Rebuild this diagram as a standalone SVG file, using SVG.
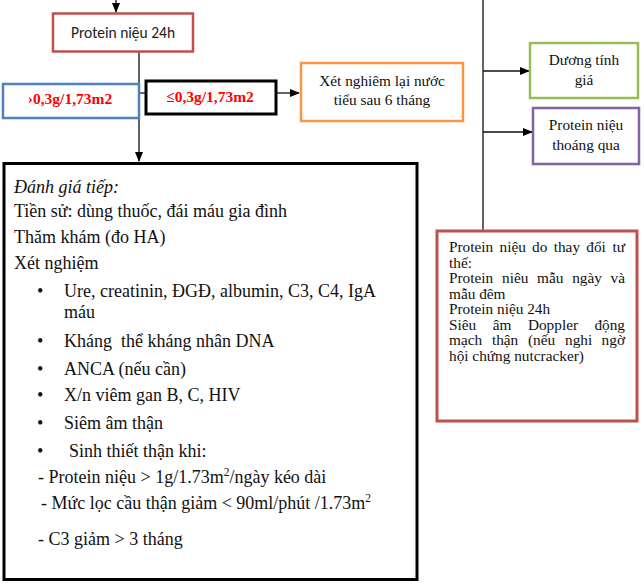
<svg xmlns="http://www.w3.org/2000/svg" width="644" height="585" viewBox="0 0 644 585">
<style>
.t{font-family:"Liberation Serif","Times New Roman",serif;fill:#111}
.s{font-family:"Carlito","Liberation Sans",Arial,sans-serif;fill:#222}
.r{font-family:"Liberation Serif","Times New Roman",serif;font-weight:bold;fill:#ff0000;font-size:15.5px}
.ln{stroke:#111;stroke-width:1.3;fill:none}
.bx{fill:#fff}
.e{text-anchor:end}
</style>
<defs>
<marker id="ah" markerWidth="10" markerHeight="8" refX="9" refY="4" orient="auto" markerUnits="userSpaceOnUse">
<path d="M0,0 L10,4 L0,8 Z" fill="#000"/>
</marker>
</defs>
<rect width="644" height="585" fill="#fff"/>
<g id="connectors">
<line class="ln" x1="116" y1="0" x2="116" y2="12" marker-end="url(#ah)"/>
<line class="ln" x1="139" y1="52" x2="139" y2="161" marker-end="url(#ah)"/>
<line class="ln" x1="139" y1="93" x2="146" y2="93"/>
<line class="ln" x1="276" y1="93" x2="299" y2="93" marker-end="url(#ah)"/>
<line class="ln" x1="483" y1="0" x2="483" y2="231" stroke="#444"/>
<line class="ln" x1="483" y1="71" x2="529" y2="71" marker-end="url(#ah)"/>
<line class="ln" x1="483" y1="132" x2="532" y2="132" marker-end="url(#ah)"/>
</g>
<g id="n-protein24h">
<rect class="bx" x="53" y="13.5" width="140" height="38" stroke="#c0504d" stroke-width="2.5"/>
<text class="s" x="123" y="37.5" font-size="15.5" text-anchor="middle">Protein niệu 24h</text>
</g>
<g id="n-gt">
<rect class="bx" x="3" y="84" width="136" height="34" stroke="#4f81bd" stroke-width="2.5"/>
<text class="r" x="70" y="104" text-anchor="middle">›0,3g/1,73m2</text>
</g>
<g id="n-le">
<rect class="bx" x="146" y="81" width="130" height="33" stroke="#000" stroke-width="3"/>
<text class="r" x="210" y="102" text-anchor="middle">≤0,3g/1,73m2</text>
</g>
<g id="n-xn">
<rect class="bx" x="301" y="63" width="162" height="58" stroke="#f79646" stroke-width="2.5"/>
<text class="t" x="382" y="86" font-size="15.3" text-anchor="middle">Xét nghiêm lại nước</text>
<text class="t" x="382" y="105" font-size="15.3" text-anchor="middle">tiểu sau 6 tháng</text>
</g>
<g id="n-duong">
<rect class="bx" x="530" y="43" width="108" height="55" stroke="#9bbb59" stroke-width="2.5"/>
<text class="t" x="584" y="64.5" font-size="15.3" text-anchor="middle">Dương tính</text>
<text class="t" x="584" y="85" font-size="15.3" text-anchor="middle">giá</text>
</g>
<g id="n-thoang">
<rect class="bx" x="533" y="108" width="106" height="56" stroke="#8064a2" stroke-width="2.5"/>
<text class="t" x="586" y="129.5" font-size="15.3" text-anchor="middle">Protein niệu</text>
<text class="t" x="586" y="149.5" font-size="15.3" text-anchor="middle">thoáng qua</text>
</g>
<g id="n-tuthe">
<rect class="bx" x="437" y="231" width="200" height="190" stroke="#c0504d" stroke-width="3"/>
<g class="t" font-size="15.3">
<text y="252"><tspan x="449">Protein</tspan><tspan x="499.5">niệu</tspan><tspan x="532.1">do</tspan><tspan x="553.7">thay</tspan><tspan x="586.3">đổi</tspan></text>
<text class="e" x="625" y="252">tư</text>
<text x="449" y="267.5">thế:</text>
<text y="283"><tspan x="449">Protein</tspan><tspan x="502">niêu</tspan><tspan x="537.1">mẫu</tspan><tspan x="572.2">ngày</tspan></text>
<text class="e" x="625" y="283">và</text>
<text x="449" y="298.5">mẫu đêm</text>
<text x="449" y="314">Protein niệu 24h</text>
<text y="329.5"><tspan x="449">Siêu</tspan><tspan x="492.7">âm</tspan><tspan x="527.9">Doppler</tspan></text>
<text class="e" x="625" y="329.5">động</text>
<text y="345"><tspan x="449">mạch</tspan><tspan x="491.9">thận</tspan><tspan x="528">(nếu</tspan><tspan x="565">nghi</tspan></text>
<text class="e" x="625" y="345">ngờ</text>
<text x="449" y="360.5">hội chứng nutcracker)</text>
</g>
</g>
<g id="n-danhgia">
<rect class="bx" x="4" y="163.5" width="413" height="416" stroke="#000" stroke-width="3"/>
<g class="t" font-size="18">
<text x="14" y="193" font-style="italic">Đánh giá tiếp:</text>
<text x="14" y="217">Tiền sử: dùng thuốc, đái máu gia đình</text>
<text x="14" y="243">Thăm khám (đo HA)</text>
<text x="14" y="269">Xét nghiệm</text>
<text x="37" y="297">•</text><text x="64" y="297">Ure, creatinin, ĐGĐ, albumin, C3, C4, IgA</text>
<text x="64" y="318">máu</text>
<text x="37" y="347">•</text><text x="64" y="347" xml:space="preserve">Kháng  thể kháng nhân DNA</text>
<text x="37" y="375">•</text><text x="64" y="375">ANCA (nếu cần)</text>
<text x="37" y="401">•</text><text x="64" y="401">X/n viêm gan B, C, HIV</text>
<text x="37" y="429">•</text><text x="64" y="429">Siêm âm thận</text>
<text x="37" y="457">•</text><text x="69" y="457">Sinh thiết thận khi:</text>
<text x="38" y="483">- Protein niệu &gt; 1g/1.73m<tspan font-size="11.5" dy="-7">2</tspan><tspan dy="7">/ngày kéo dài</tspan></text>
<text x="41" y="509">- Mức lọc cầu thận giảm &lt; 90ml/phút /1.73m<tspan font-size="11.5" dy="-7">2</tspan></text>
<text x="38" y="545">- C3 giảm &gt; 3 tháng</text>
</g>
</g>
</svg>
